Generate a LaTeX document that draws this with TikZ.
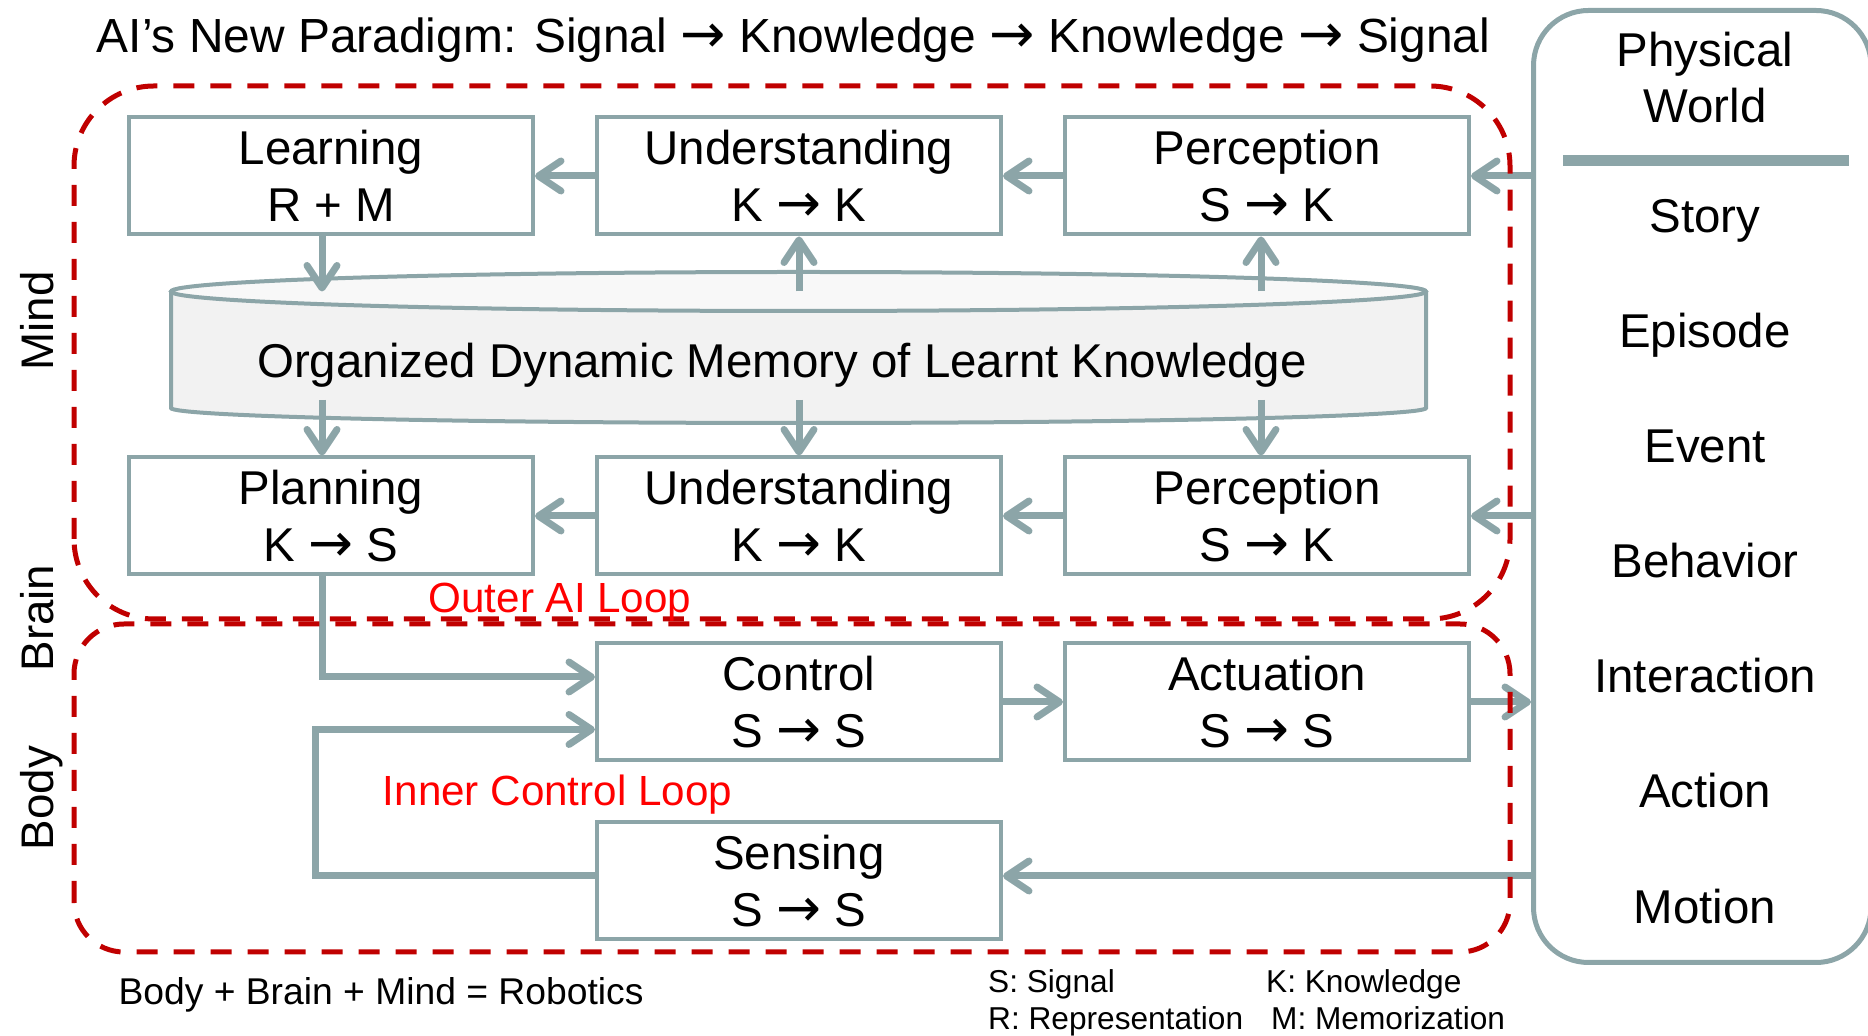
\documentclass[tikz,border=0pt]{standalone}
\usepackage{fontspec}
\setmainfont{Liberation Sans}
\newfontfamily\arrowfont{DejaVu Sans}
\usepackage{tikz}
\usetikzlibrary{arrows.meta, positioning, calc}
\definecolor{linec}{RGB}{140,165,168}
\definecolor{zonec}{RGB}{192,0,0}
\definecolor{tagc}{RGB}{255,0,0}
\definecolor{memfill}{RGB}{242,242,242}
\definecolor{topfill}{RGB}{248,248,248}
\newcommand{\toarrow}{\scalebox{1.13}{\arrowfont →}}

\begin{document}
\begin{tikzpicture}[
    block/.style={draw=linec, line width=0.08cm, minimum width=8.08cm,
      minimum height=2.34cm, inner sep=0pt, align=center,
      font=\fontsize{27}{32.4}\selectfont},
    arr/.style={-{Straight Barb[length=0.45cm, width=0.6cm, round]},
      line width=0.14cm, linec},
    zone/.style={draw=zonec, line width=0.1cm, dash pattern=on 0.42cm off 0.32cm},
    cyl/.style={draw=linec, line width=0.08cm},
    side/.style={font=\fontsize{26}{30}\selectfont, rotate=90, anchor=base},
    looplabel/.style={text=tagc, font=\fontsize{24}{28}\selectfont, anchor=base},
    entry/.style={font=\fontsize{27}{32}\selectfont, anchor=base},
    note/.style={font=\fontsize{18}{20}\selectfont, anchor=base west}]
  \useasboundingbox (0,0) rectangle (37.36,20.7);
  % title
  \node[font=\fontsize{27.25}{32}\selectfont, anchor=base] (title) at (15.87,19.64)
    {AI’s New Paradigm: Signal \toarrow{} Knowledge \toarrow{} Knowledge \toarrow{} Signal};
  % memory cylinder
  \coordinate (memtop) at (15.97,14.87);
  \coordinate (membot) at (15.97,12.7);
  \fill[memfill] (3.42,14.87) -- (3.42,12.54)
    arc[start angle=180, end angle=360, x radius=12.55, y radius=0.3] -- (28.52,14.87) -- cycle;
  \draw[cyl] (3.42,14.87) -- (3.42,12.54)
    arc[start angle=180, end angle=360, x radius=12.55, y radius=0.3] -- (28.52,14.87);
  \draw[cyl, fill=topfill] (memtop) ellipse[x radius=12.55, y radius=0.39];
  \node[font=\fontsize{27}{32}\selectfont, anchor=base] (mem) at (15.64,13.14)
    {Organized Dynamic Memory of Learnt Knowledge};
  % stages
  \node[block] (learn) at (6.62,17.18) {Learning\\R + M};
  \node[block, right=1.2cm of learn] (und1) {Understanding\\K \toarrow{} K};
  \node[block, right=1.2cm of und1] (perc1) {Perception\\S \toarrow{} K};
  \node[block, below=4.38cm of learn] (plan) {Planning\\K \toarrow{} S};
  \node[block, right=1.2cm of plan] (und2) {Understanding\\K \toarrow{} K};
  \node[block, right=1.2cm of und2] (perc2) {Perception\\S \toarrow{} K};
  \node[block, below=1.3cm of und2] (ctrl) {Control\\S \toarrow{} S};
  \node[block, right=1.2cm of ctrl] (act) {Actuation\\S \toarrow{} S};
  \node[block, below=1.16cm of ctrl] (sense) {Sensing\\S \toarrow{} S};
  % physical world
  \node[draw=linec, line width=0.1cm, rounded corners=1.1cm, minimum width=6.75cm,
    minimum height=19.04cm] (world) at (34.045,10.97) {};
  \node[font=\fontsize{27}{32}\selectfont, align=center] (pw) at (34.1,19.15) {Physical\\World};
  \draw[linec, line width=0.22cm] (31.26,17.48) -- (36.98,17.48);
  \foreach \name [count=\i from 0] in {Story, Episode, Event, Behavior, Interaction, Action, Motion}
    \node[entry] (w\i) at (34.1,16.04-2.3*\i) {\name};
  % connectors
  \draw[arr] (und1) -- (learn);
  \draw[arr] (perc1) -- (und1);
  \draw[arr] (world.west |- perc1) -- (perc1);
  \draw[arr] ([xshift=-0.18cm]learn.south) -- ([xshift=-0.18cm]learn.south |- memtop);
  \draw[arr] (und1.south |- memtop) -- (und1.south);
  \draw[arr] ([xshift=-0.12cm]perc1.south |- memtop) -- ([xshift=-0.12cm]perc1.south);
  \draw[arr] ([xshift=-0.18cm]plan.north |- membot) -- ([xshift=-0.18cm]plan.north);
  \draw[arr] (und2.north |- membot) -- (und2.north);
  \draw[arr] ([xshift=-0.12cm]perc2.north |- membot) -- ([xshift=-0.12cm]perc2.north);
  \draw[arr] (und2) -- (plan);
  \draw[arr] (perc2) -- (und2);
  \draw[arr] (world.west |- perc2) -- (perc2);
  \draw[arr] ([xshift=-0.18cm]plan.south) |- ([yshift=0.5cm]ctrl.west);
  \draw[arr] ([yshift=0.1cm]sense.west) -- ++(-5.6,0) |- ([yshift=-0.55cm]ctrl.west);
  \draw[arr] (ctrl) -- (act);
  \draw[arr] (act) -- (act -| world.west);
  \draw[arr] ([yshift=0.1cm]world.west |- sense) -- ([yshift=0.1cm]sense.east);
  % loops
  \draw[zone, rounded corners=1.6cm] (1.48,8.32) rectangle (30.2,18.98);
  \draw[zone, rounded corners=1cm] (1.48,1.66) rectangle (30.2,8.22);
  \node[side] (mind) at (1.08,14.28) {Mind};
  \node[side] (brain) at (1.08,8.34) {Brain};
  \node[side] (body) at (1.08,4.74) {Body};
  \node[looplabel] (outer) at (11.2,8.44) {Outer AI Loop};
  \node[looplabel] (inner) at (11.15,4.58) {Inner Control Loop};
  % notes
  \node[font=\fontsize{21.2}{24}\selectfont, anchor=base] (sum) at (7.62,0.62)
    {Body + Brain + Mind = Robotics};
  \node[note] (ls) at (19.64,0.85) {S: Signal};
  \node[note] (lk) at (25.2,0.85) {K: Knowledge};
  \node[note] (lr) at (19.64,0.1) {R: Representation};
  \node[note] (lm) at (25.3,0.1) {M: Memorization};
\end{tikzpicture}
\end{document}
